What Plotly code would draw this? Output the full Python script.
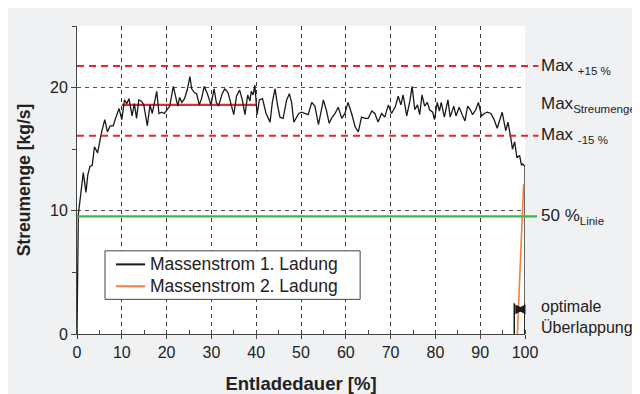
import plotly.graph_objects as go

# ---------------- data ----------------
entladedauer_1 = [0, 0.3, 1.4, 2.0, 2.4, 2.9, 3.4, 3.9, 4.6, 5.5, 6.2, 6.8, 7.4, 8.1, 8.6, 9.4,
                  10.0, 10.6, 11.1, 11.6, 12.3, 12.8, 13.3, 13.8, 14.4, 14.9, 15.7, 16.3, 16.8,
                  17.4, 17.8, 18.3, 18.9, 19.5, 20.2, 20.7, 21.5, 22.2, 22.5, 22.9, 23.4, 24.0,
                  24.6, 25.2, 25.6, 26.2, 26.7, 27.3, 27.8, 28.4, 29.1, 29.9, 30.6, 31.1, 31.6,
                  32.4, 33.0, 33.7, 34.4, 35.0, 35.6, 36.3, 36.9, 37.5, 38.1, 38.6, 38.9, 39.3,
                  39.7, 40.2, 40.7, 41.4, 42.2, 43.1, 43.6, 44.2, 44.8, 45.3, 46.0, 46.8, 47.4,
                  47.9, 48.4, 49.0, 49.5, 50.1, 50.8, 51.6, 52.4, 53.1, 53.9, 54.4, 55.0, 55.7,
                  56.3, 56.8, 57.6, 58.3, 59.1, 59.8, 60.5, 61.3, 62.1, 62.8, 63.5, 64.3, 65.0,
                  65.8, 66.5, 67.2, 68.0, 68.7, 69.5, 70.2, 71.0, 71.7, 72.3, 72.8, 73.6, 74.3,
                  74.8, 75.4, 76.0, 76.5, 77.0, 77.6, 78.2, 78.7, 79.4, 79.8, 80.4, 80.9, 81.3,
                  82.0, 82.8, 83.3, 84.1, 84.6, 85.3, 86.1, 86.6, 87.2, 87.8, 88.3, 89.0, 89.6,
                  90.3, 90.9, 91.6, 92.4, 93.1, 93.8, 94.4, 94.9, 95.7, 96.2, 96.8, 97.2, 97.7,
                  98.2, 98.8, 99.2, 99.5, 100.0, 100.0]
streumenge_1 = [0, 9.7, 13.1, 11.5, 12.9, 13.6, 13.7, 15.2, 14.7, 16.4, 17.4, 16.4, 16.9, 16.9, 17.5, 18.3,
                17.4, 19.0, 18.7, 19.1, 17.7, 18.7, 17.5, 19.0, 18.9, 18.6, 16.9, 18.6, 17.9,
                19.0, 19.7, 17.9, 18.0, 17.9, 18.3, 18.5, 20.1, 19.1, 18.5, 19.2, 18.8, 19.1,
                19.8, 20.9, 19.9, 19.6, 19.5, 18.6, 19.1, 20.1, 19.5, 18.6, 19.9, 18.8, 18.5,
                19.5, 19.9, 19.6, 18.7, 17.8, 19.3, 19.8, 19.0, 17.8, 19.4, 18.9, 19.7, 19.4,
                20.2, 17.8, 19.0, 19.1, 17.9, 17.2, 18.8, 19.9, 18.5, 17.6, 17.5, 19.0, 19.5,
                18.8, 17.2, 17.6, 17.9, 18.0, 17.9, 17.8, 18.8, 18.5, 17.0, 17.9, 19.0, 18.1,
                17.1, 17.5, 17.9, 18.4, 17.5, 17.9, 18.8, 17.9, 16.8, 16.4, 17.6, 17.5, 17.5,
                18.1, 17.9, 17.2, 17.9, 17.6, 18.6, 17.9, 18.4, 19.3, 18.6, 19.4, 17.7, 18.9,
                20.1, 18.2, 18.6, 17.8, 19.4, 18.5, 18.8, 18.2, 18.0, 17.4, 18.8, 18.1, 18.8,
                17.6, 19.0, 17.6, 18.5, 17.7, 18.4, 17.7, 17.3, 18.5, 18.2, 17.8, 18.2, 18.8,
                17.7, 17.9, 18.0, 17.9, 17.4, 16.7, 17.5, 18.0, 16.5, 17.2, 16.0, 15.0, 15.6,
                14.3, 14.5, 13.7, 13.8, 13.6, 0]

entladedauer_2 = [98.3, 99.7]
streumenge_2 = [0, 12.2]

series_names = ["Massenstrom 1. Ladung", "Massenstrom 2. Ladung"]
series_colors = ["#1a1a1a", "#f07f3c"]

max_streumenge = 18.6
max_plus15 = 21.75
max_minus15 = 16.1
linie_50 = 9.55
max_range_x = [10, 40]
overlap_x = [97.6, 100]

x_ticks = [0, 10, 20, 30, 40, 50, 60, 70, 80, 90, 100]
y_ticks = [0, 10, 20]
Y_MAX = 25

# ---------------- figure ----------------
FONT = "Liberation Sans, Arial, Helvetica, sans-serif"
TXT = "#222222"

fig = go.Figure()

fig.add_trace(go.Scatter(x=max_range_x, y=[max_streumenge] * 2, mode="lines",
                         line=dict(color="#e8262b", width=2.2), showlegend=False,
                         hoverinfo="skip"))
fig.add_trace(go.Scatter(x=entladedauer_1, y=streumenge_1, mode="lines",
                         name=series_names[0], showlegend=False,
                         line=dict(color=series_colors[0], width=1.3)))
fig.add_trace(go.Scatter(x=entladedauer_2, y=streumenge_2, mode="lines",
                         name=series_names[1], showlegend=False,
                         line=dict(color=series_colors[1], width=1.6)))

def hline(v, color, width, dash, x1):
    fig.add_shape(type="line", xref="paper", yref="paper",
                  x0=0, x1=x1, y0=v / Y_MAX, y1=v / Y_MAX,
                  line=dict(color=color, width=width, dash=dash))

hline(max_plus15, "#e8262b", 2, "7px,5px", 1.03)
hline(max_minus15, "#e8262b", 2, "7px,5px", 1.03)
hline(linie_50, "#3cb54a", 2.2, "solid", 1.027)

# overlap markers
for xv in overlap_x:
    fig.add_shape(type="line", xref="x", yref="y", x0=xv, x1=xv, y0=0, y1=2.5,
                  line=dict(color="#1a1a1a", width=1.5))
fig.add_annotation(x=overlap_x[1], y=2.0, ax=overlap_x[0], ay=2.0,
                   xref="x", yref="y", axref="x", ayref="y", text="",
                   showarrow=True, arrowhead=2, startarrowhead=2, arrowside="end+start",
                   arrowsize=1.3, startarrowsize=1.3, arrowwidth=1.5, arrowcolor="#1a1a1a",
                   standoff=0, startstandoff=0)

lab_x = 1.031
SUB = "<sub><span style='font-size:11.5px'>%s</span></sub>"
def label(v, text):
    fig.add_annotation(xref="paper", yref="paper", x=lab_x, y=v / Y_MAX, text=text,
                       showarrow=False, xanchor="left", yanchor="middle",
                       font=dict(family=FONT, size=17, color=TXT))

label(max_plus15, "Max " + SUB % "+15 %")
label(max_streumenge, "Max" + SUB % "Streumenge")
label(max_minus15, "Max " + SUB % "-15 %")
label(linie_50, "50 %" + SUB % "Linie")
fig.add_annotation(xref="paper", yref="paper", x=lab_x, y=1.4 / Y_MAX,
                   text="optimale<br>Überlappung", showarrow=False,
                   xanchor="left", yanchor="middle", align="left",
                   font=dict(family=FONT, size=16, color=TXT))

# legend box (drawn manually for exact placement)
lg_x0, lg_x1, lg_y0, lg_y1 = 0.0625, 0.632, 0.1125, 0.27
fig.add_shape(type="rect", xref="paper", yref="paper", x0=lg_x0, x1=lg_x1, y0=lg_y0, y1=lg_y1,
              fillcolor="white", line=dict(color="#444", width=1))
for name, col, yy in zip(series_names, series_colors, [0.226, 0.155]):
    fig.add_shape(type="line", xref="paper", yref="paper", x0=0.087, x1=0.152, y0=yy, y1=yy,
                  line=dict(color=col, width=2))
    fig.add_annotation(xref="paper", yref="paper", x=0.158, y=yy, text=name,
                       showarrow=False, xanchor="left", yanchor="middle",
                       font=dict(family=FONT, size=17.5, color=TXT))

fig.update_layout(
    width=640, height=394,
    margin=dict(l=69, r=123, t=18, b=65),
    paper_bgcolor="#f0f1f3", plot_bgcolor="white",
    font=dict(family=FONT, size=16, color=TXT),
    showlegend=False,
    xaxis=dict(range=[0, 100], tickvals=x_ticks, showline=True, linecolor="#444",
               linewidth=1, ticks="outside", ticklen=4, tickcolor="#444",
               showgrid=True, gridcolor="#333", griddash="4px,4px", gridwidth=1,
               zeroline=False,
               minor=dict(dtick=5, ticks="inside", ticklen=4, tickcolor="#444", showgrid=False),
               tickfont=dict(size=16, color=TXT),
               title=dict(text="<b>Entladedauer [%]</b>", standoff=16,
                          font=dict(size=18.5, color=TXT))),
    yaxis=dict(range=[0, Y_MAX], tickvals=y_ticks, showline=True, linecolor="#444",
               linewidth=1, ticks="outside", ticklen=5, tickcolor="#444",
               showgrid=True, gridcolor="#555", griddash="4px,4px", gridwidth=1,
               zeroline=False,
               minor=dict(dtick=5, ticks="outside", ticklen=4, tickcolor="#444", showgrid=False),
               tickfont=dict(size=16, color=TXT),
               title=dict(text="<b>Streumenge [kg/s]</b>", standoff=14,
                          font=dict(size=17.5, color=TXT))),
)

fig.write_html("out.html")
